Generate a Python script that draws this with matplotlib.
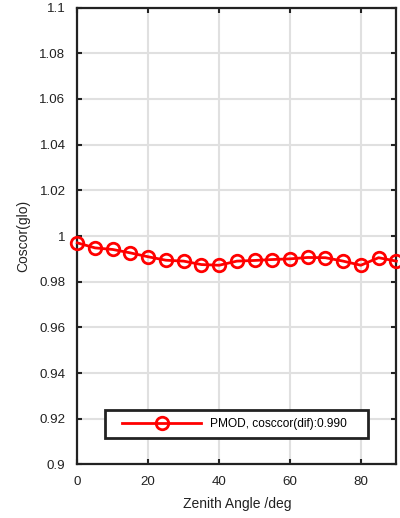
import matplotlib
matplotlib.use("Agg")
import matplotlib.pyplot as plt
from matplotlib.legend_handler import HandlerLine2D

angles = [0, 5, 10, 15, 20, 25, 30, 35, 40, 45, 50, 55, 60, 65, 70, 75, 80, 85, 90]
coscor = [0.9970, 0.9948, 0.9941, 0.9926, 0.9909, 0.9894, 0.9890, 0.9875, 0.9872, 0.9890,
          0.9893, 0.9897, 0.9900, 0.9906, 0.9905, 0.9890, 0.9872, 0.9905, 0.9890]
label = "PMOD, cosccor(dif):0.990"
xticks = [0, 20, 40, 60, 80]
yticks = [0.9, 0.92, 0.94, 0.96, 0.98, 1.0, 1.02, 1.04, 1.06, 1.08, 1.1]
yticklabels = ["0.9", "0.92", "0.94", "0.96", "0.98", "1", "1.02", "1.04", "1.06", "1.08", "1.1"]

plt.rcParams['font.family'] = ['Liberation Sans', 'DejaVu Sans']
fig = plt.figure(figsize=(4.0, 5.18), dpi=100)
ax = fig.add_axes([0.1933, 0.1033, 0.7975, 0.8822])
ax.plot(angles, coscor, color='red', lw=2, marker='o', ms=9, mfc='none', mec='red', mew=2,
        label=label + "    ", clip_on=False, zorder=3)
ax.set_xlim(0, 90)
ax.set_ylim(0.9, 1.1)
ax.set_xticks(xticks)
ax.set_yticks(yticks)
ax.set_yticklabels(yticklabels)
ax.grid(True, color='#e0e0e0', lw=1.5)
ax.set_axisbelow(True)
for s in ax.spines.values():
    s.set_linewidth(1.6)
    s.set_color('#222222')
ax.tick_params(direction='in', length=3.5, width=1.5, labelsize=9.6, top=True, right=True,
               pad=8.5, color='#222222', labelcolor='#222222')
ax.set_xlabel("Zenith Angle /deg", fontsize=10, color='#222222', labelpad=6)
ax.set_ylabel("Coscor(glo)", fontsize=10, color='#222222', labelpad=6.5)
leg = ax.legend(loc='lower center', bbox_to_anchor=(0.5, 0.057), fontsize=8.6, frameon=True,
                fancybox=False, edgecolor='#222222', framealpha=1, handlelength=7.33,
                handletextpad=0.75, borderpad=0.7, borderaxespad=0,
                handler_map={ax.lines[0]: HandlerLine2D(xpad=0.72)})
leg.get_frame().set_linewidth(2)
fig.savefig("out.png", dpi=100)
